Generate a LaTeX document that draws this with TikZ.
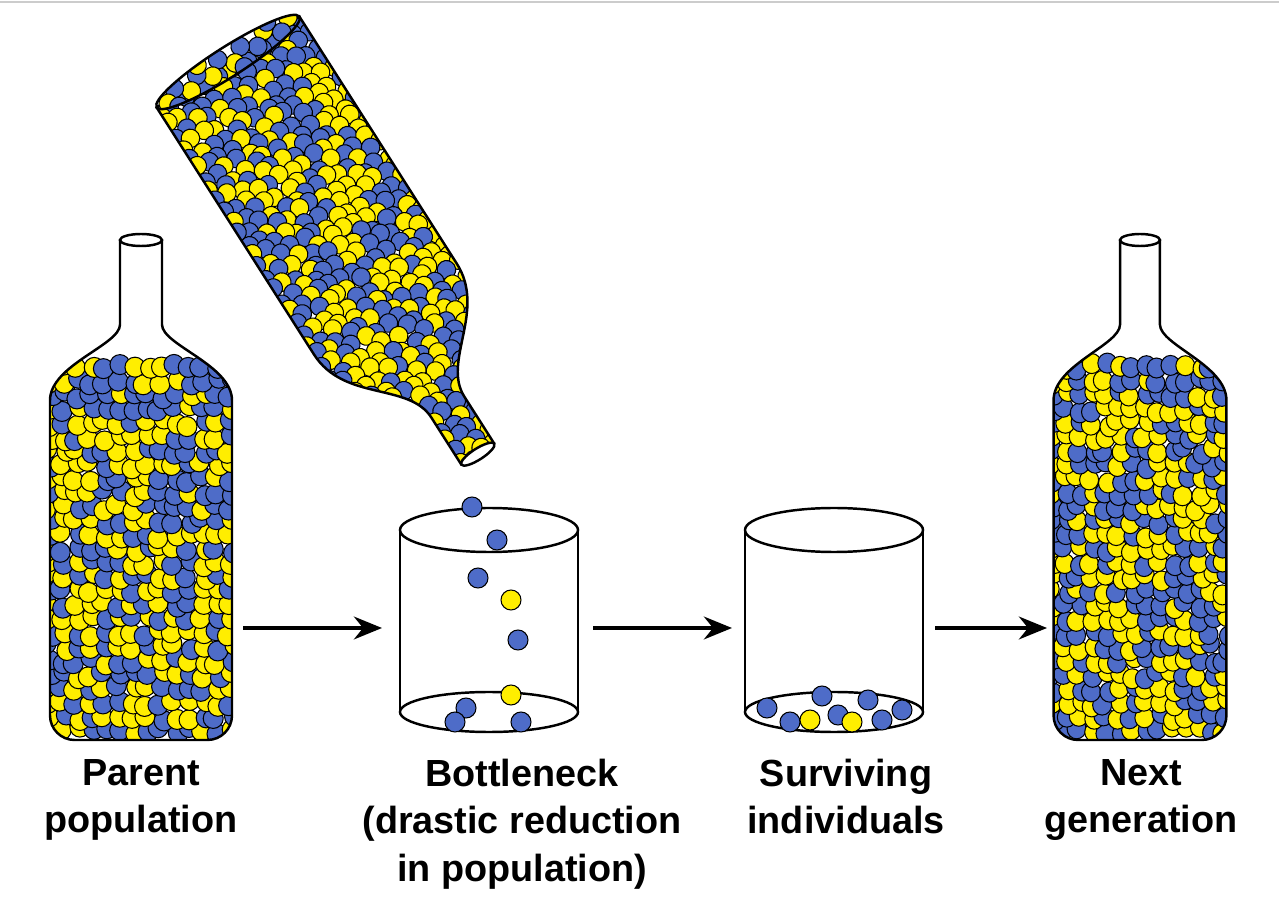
\documentclass[tikz,border=0pt]{standalone}
\usepackage{fontspec}
\setmainfont{Liberation Sans}
\usetikzlibrary{arrows.meta}
\definecolor{ball0}{RGB}{78,108,200}
\definecolor{ball1}{RGB}{255,238,0}
\newcommand{\bottlepath}{(-21,500) -- (-21,440) .. controls (-21,395) and (-91,375) .. (-91,315) -- (-91,0) -- (91,0) -- (91,315) .. controls (91,375) and (21,395) .. (21,440) -- (21,500)}
\newcommand{\fillballs}[1]{%
  \foreach \i in {0,...,#1}{
    \foreach \j in {0,...,13}{
      \pgfmathsetmacro\bx{-92+\j*14+rand*4}
      \pgfmathsetmacro\by{9+\i*14+rand*4}
      \pgfmathsetmacro\bc{int(random(0,1))}
      \draw[ball,fill=ball\bc] (\bx,\by) circle (10);
    }}}
\begin{document}
\begin{tikzpicture}[x=0.02cm,y=0.02cm,line width=1.4pt,
  ball/.style={line width=0.6pt},
  lbl/.style={anchor=north,align=center,font=\fontsize{21.5}{27}\selectfont\bfseries},
  flow/.style={-{Stealth[length=16pt,width=13pt]},line width=2pt}]
\pgfmathsetseed{7}
\useasboundingbox (0,0) rectangle (1279,907);
\draw[gray!40,line width=1pt] (0,905) -- (1279,905);
% parent population
\begin{scope}[shift={(141,167)}]
  \begin{scope}
    \clip[rounded corners=14] \bottlepath -- cycle;
    \fillballs{26}
  \end{scope}
  \draw[rounded corners=14] \bottlepath;
  \draw (0,500) ellipse (21 and 6);
\end{scope}
% next generation
\begin{scope}[shift={(1140,167)},xscale=0.95]
  \begin{scope}
    \clip[rounded corners=14] \bottlepath -- cycle;
    \fillballs{26}
  \end{scope}
  \draw[rounded corners=14] \bottlepath;
  \draw (0,500) ellipse (21 and 6);
\end{scope}
% tilted bottle, open base up
\begin{scope}[shift={(228,845)},rotate=-147.5,scale=0.93]
  \begin{scope}
    \clip \bottlepath -- cycle;
    \fillballs{36}
  \end{scope}
  \draw \bottlepath;
  \begin{scope}
    \clip (0,0) ellipse (91 and 16);
    \foreach \bx/\by/\bc in {-80/-6/1,-66/4/0,-50/-8/1,-36/3/0,-20/-7/0,-6/5/1,8/-8/0,22/4/1,36/-6/0,50/5/1,64/-7/0,78/3/1,-58/-14/0,-12/14/0,30/-15/1,70/12/0}
      \draw[ball,fill=ball\bc] (\bx,\by) circle (10);
  \end{scope}
  \draw (0,0) ellipse (91 and 16);
  \draw[fill=white] (0,500) ellipse (21 and 6);
\end{scope}
% bottleneck cup
\draw (489,377) ellipse (89 and 22);
\draw (400,377) -- (400,195) (578,377) -- (578,195);
\draw (489,195) ellipse (89 and 20);
\foreach \x/\y/\c in {472/400/0,497/367/0,478/329/0,511/307/1,518/267/0,511/212/1,466/199/0,455/185/0,521/185/0}
  \draw[ball,fill=ball\c] (\x,\y) circle (10);
% surviving cup
\draw (834,377) ellipse (89 and 22);
\draw (745,377) -- (745,195) (923,377) -- (923,195);
\draw (834,195) ellipse (89 and 20);
\foreach \x/\y/\c in {767/199/0,822/211/0,868/207/0,902/197/0,790/185/0,810/187/1,838/192/0,852/185/1,882/187/0}
  \draw[ball,fill=ball\c] (\x,\y) circle (10);
% arrows
\coordinate (a1) at (243,279); \coordinate (b1) at (382,279);
\coordinate (a2) at (593,279); \coordinate (b2) at (732,279);
\coordinate (a3) at (935,279); \coordinate (b3) at (1047,279);
\draw[flow] (a1) -- (b1);
\draw[flow] (a2) -- (b2);
\draw[flow] (a3) -- (b3);
% labels
\node[lbl] (parent) at (141,155) {Parent\\population};
\node[lbl] (neck) at (522,155) {Bottleneck\\(drastic reduction\\in population)};
\node[lbl] (surv) at (846,155) {Surviving\\individuals};
\node[lbl] (next) at (1141,155) {Next\\generation};
\end{tikzpicture}
\end{document}
